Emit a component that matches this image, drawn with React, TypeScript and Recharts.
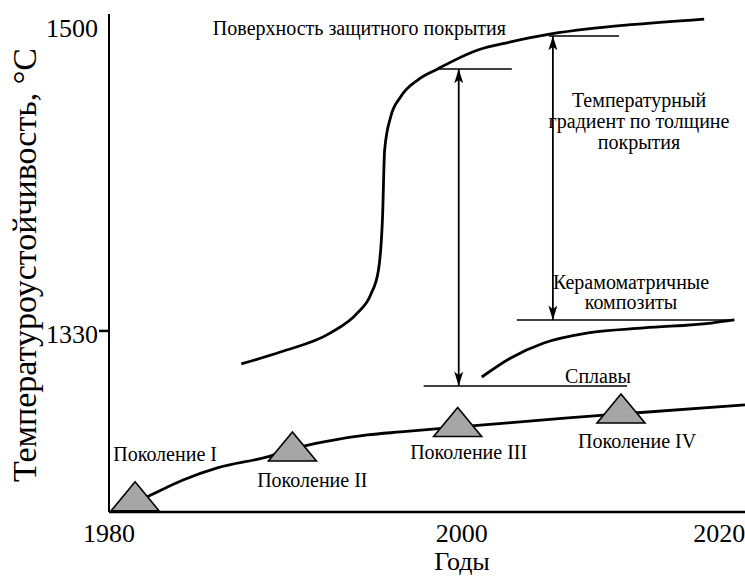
import { ComposedChart, Line, Scatter, XAxis, YAxis, ReferenceLine, ReferenceDot } from "recharts";

// --- data (years / °C) ---
const X_TICKS = [1980, 2000, 2020];
const Y_TICKS = [1330, 1500];
const Y_MARKED = [1330]; // only this tick has a mark in the original

const SURFACE_YEARS = [1987.5, 1989.72, 1992.56, 1994.09, 1994.83, 1995.28, 1995.51, 1995.63, 1995.97, 1996.53, 1997.5, 1998.64, 2001.25, 2003.81, 2006.93, 2009.81, 2012.92, 2018.83];
const SURFACE_TEMPS = [1311.7, 1318.3, 1328.9, 1340.0, 1350.0, 1363.9, 1393.3, 1430.6, 1448.9, 1460.0, 1469.4, 1475.6, 1486.1, 1490.6, 1495.0, 1497.8, 1500.0, 1503.3];

const CMC_YEARS = [2001.56, 2003.81, 2006.38, 2009.81, 2014.16, 2019.38, 2021.17];
const CMC_TEMPS = [1304.4, 1315.0, 1323.3, 1328.9, 1331.7, 1334.4, 1336.1];

const ALLOY_YEARS = [1981.08, 1982.16, 1984.2, 1986.14, 1988.98, 1990.85, 1992.73, 1994.66, 1996.53, 2001.71, 2008.25, 2013.39, 2022];
const ALLOY_TEMPS = [1232.8, 1237.8, 1247.2, 1253.9, 1260.0, 1265.6, 1269.4, 1272.2, 1273.9, 1277.8, 1281.7, 1284.4, 1288.9];

const GEN_NAMES = ["Поколение I", "Поколение II", "Поколение III", "Поколение IV"];
const GEN_YEARS = [1981.48, 1990.4, 1999.77, 2012.37];
const GEN_TEMPS = [1238.1, 1265.8, 1279.4, 1286.9];
const GEN_LABEL_YEARS = [1983.18, 1991.53, 2000.54, 2013.62];
const GEN_LABEL_TEMPS = [1261.7, 1247.2, 1262.8, 1268.9];

// horizontal guide lines: [from year, to year, temp]
const GUIDES = [
  [1998.64, 2003.89, 1475.6],
  [2006.77, 2012.22, 1493.9],
  [2004.28, 2021.17, 1336.1],
  [1997.84, 2012.84, 1299.4],
];
// double arrows: [year, top temp, bottom temp]
const ARROWS = [
  [1999.83, 1475.6, 1299.4],
  [2007.08, 1493.9, 1336.1],
];
// annotation text lines: [text, year, temp]
const NOTES: [string, number, number][] = [
  ["Поверхность защитного покрытия", 1994.2, 1498.3],
  ["Температурный", 2013.77, 1458.3],
  ["градиент по толщине", 2013.77, 1446.7],
  ["покрытия", 2013.77, 1435.0],
  ["Керамоматричные", 2013.15, 1357.2],
  ["композиты", 2013.15, 1346.1],
  ["Сплавы", 2010.58, 1305.0],
];

const toPoints = (xs: number[], ts: number[]) => xs.map((x, i) => ({ x, t: ts[i] }));
const surface = toPoints(SURFACE_YEARS, SURFACE_TEMPS);
const cmc = toPoints(CMC_YEARS, CMC_TEMPS);
const alloys = toPoints(ALLOY_YEARS, ALLOY_TEMPS);
const gens = GEN_YEARS.map((x, i) => ({ x, t: GEN_TEMPS[i], name: GEN_NAMES[i] }));

// the year axis of the original is not uniform: 1980-2000 is wider than 2000-2020
const KNOTS = [1980, 2000, 2022];
const KNOT_PX = [0, 352, 634.7];

function warp(v: number) {
  let i = 1;
  while (i < KNOTS.length - 1 && v > KNOTS[i]) i++;
  const t = (v - KNOTS[i - 1]) / (KNOTS[i] - KNOTS[i - 1]);
  return KNOT_PX[i - 1] + t * (KNOT_PX[i] - KNOT_PX[i - 1]);
}

function yearScale(): any {
  let dom = [1980, 2022];
  let rng = [0, 1];
  const s: any = (v: number) => {
    const a = warp(dom[0]);
    const b = warp(dom[1]);
    return rng[0] + ((warp(v) - a) / (b - a)) * (rng[1] - rng[0]);
  };
  s.domain = (d?: any) => {
    if (d === undefined) return dom;
    dom = Array.from(d).map(Number);
    return s;
  };
  s.range = (r?: any) => {
    if (r === undefined) return rng;
    rng = Array.from(r).map(Number);
    return s;
  };
  s.copy = () => yearScale().domain(dom).range(rng);
  s.ticks = () => X_TICKS;
  return s;
}

const FONT = "'Liberation Serif', 'Times New Roman', serif";

const Triangle = (props: any) => {
  const { cx, cy } = props;
  if (cx == null || cy == null) return null;
  return (
    <polygon
      points={`${cx},${cy - 14.5} ${cx - 24},${cy + 14.5} ${cx + 24},${cy + 14.5}`}
      fill="#a6a6a6"
      stroke="#000"
      strokeWidth={1.6}
      strokeLinejoin="miter"
    />
  );
};

const YTick = (props: any) => {
  const { x, y, payload } = props;
  return (
    <g>
      {Y_MARKED.includes(payload.value) ? (
        <line x1={x + 1} x2={x + 11} y1={y} y2={y} stroke="#000" strokeWidth={2.5} />
      ) : null}
      <text x={x} y={y} dy={12} textAnchor="end" fontSize={26} fill="#000">
        {payload.value}
      </text>
    </g>
  );
};

export default function App() {
  return (
    <div style={{ position: "absolute", left: 0, top: 0 }}>
      <ComposedChart
        width={745}
        height={576}
        margin={{ top: 14, right: 0, bottom: 0, left: 0 }}
        style={{ fontFamily: FONT, background: "#fff" }}
      >
        <defs>
          <marker
            id="arrowHead"
            viewBox="0 0 16 10"
            refX={16}
            refY={5}
            markerWidth={16}
            markerHeight={9}
            markerUnits="userSpaceOnUse"
            orient="auto-start-reverse"
          >
            <path d="M0,0 L16,5 L0,10 L4,5 Z" fill="#000" />
          </marker>
        </defs>
        <XAxis
          type="number"
          dataKey="x"
          domain={[1980, 2022]}
          scale={yearScale()}
          ticks={X_TICKS}
          interval={0}
          allowDataOverflow
          tickLine={false}
          tickSize={8}
          tickMargin={4}
          height={64}
          axisLine={{ stroke: "#000", strokeWidth: 2.5 }}
          tick={{ fill: "#000", fontSize: 26 }}
          label={{ value: "Годы", position: "center", dx: 35, dy: 17, fontSize: 26, fill: "#000" }}
        />
        <XAxis
          xAxisId="top"
          orientation="top"
          type="number"
          domain={[1980, 2022]}
          height={0}
          tick={false}
          tickLine={false}
          axisLine={{ stroke: "#000", strokeWidth: 2.5 }}
        />
        <YAxis
          type="number"
          dataKey="t"
          domain={[1229.4, 1506.1]}
          ticks={Y_TICKS}
          interval={0}
          allowDataOverflow
          width={109}
          tickSize={10}
          tickMargin={1}
          tickLine={false}
          axisLine={{ stroke: "#000", strokeWidth: 2 }}
          tick={<YTick />}
          label={{
            value: "Температуроустойчивость, °C",
            angle: -90,
            position: "center",
            dx: -31,
            dy: 2,
            fontSize: 34,
            fill: "#000",
          }}
        />

        {GUIDES.map(([x1, x2, t], i) => (
          <ReferenceLine
            key={`g${i}`}
            segment={[{ x: x1, y: t }, { x: x2, y: t }]}
            stroke="#000"
            strokeWidth={1.5}
          />
        ))}
        {ARROWS.map(([x, t1, t2], i) => (
          <ReferenceLine
            key={`a${i}`}
            segment={[{ x, y: t1 }, { x, y: t2 }]}
            stroke="#000"
            strokeWidth={1.8}
            markerStart="url(#arrowHead)"
            markerEnd="url(#arrowHead)"
          />
        ))}

        <Line data={surface} dataKey="t" type="monotone" stroke="#000" strokeWidth={2.8} dot={false} isAnimationActive={false} />
        <Line data={cmc} dataKey="t" type="monotone" stroke="#000" strokeWidth={2.8} dot={false} isAnimationActive={false} />
        <Line data={alloys} dataKey="t" type="monotone" stroke="#000" strokeWidth={2.8} dot={false} isAnimationActive={false} />
        <Scatter data={gens} dataKey="t" shape={<Triangle />} isAnimationActive={false} />

        {GEN_NAMES.map((name, i) => (
          <ReferenceDot
            key={name}
            x={GEN_LABEL_YEARS[i]}
            y={GEN_LABEL_TEMPS[i]}
            r={0}
            fill="none"
            stroke="none"
            label={{ value: name, position: "center", fontSize: 20, fill: "#000" }}
          />
        ))}
        {NOTES.map(([text, x, t]) => (
          <ReferenceDot
            key={text}
            x={x}
            y={t}
            r={0}
            fill="none"
            stroke="none"
            label={{ value: text, position: "center", fontSize: 20, fill: "#000" }}
          />
        ))}
      </ComposedChart>
    </div>
  );
}
